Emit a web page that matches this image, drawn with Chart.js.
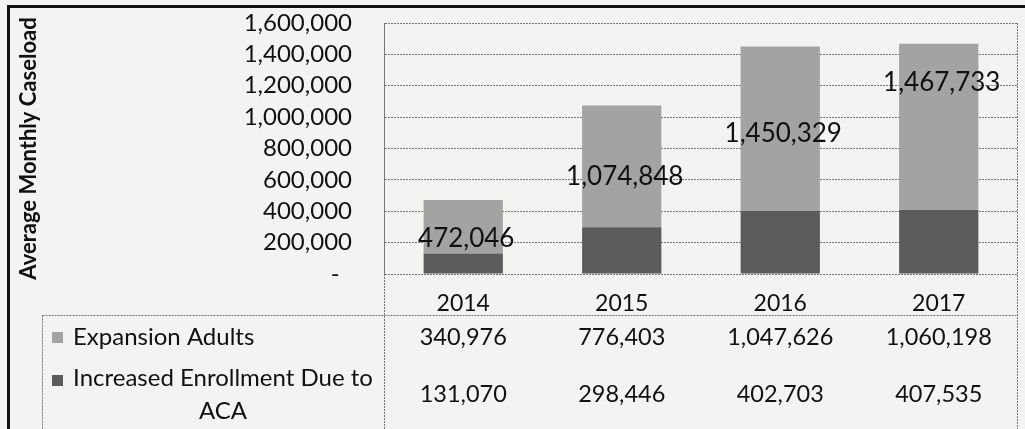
<!DOCTYPE html>
<html>
<head>
<meta charset="utf-8">
<script src="https://cdn.jsdelivr.net/npm/chart.js@4.4.1/dist/chart.umd.min.js"></script>
<style>
  html, body { margin: 0; padding: 0; background: #f3f3f1; }
  canvas { display: block; }
</style>
</head>
<body>
<canvas id="caseloadChart" width="1025" height="429"></canvas>
<script>
const years = ["2014", "2015", "2016", "2017"];
const expansionAdults = [340976, 776403, 1047626, 1060198];
const increasedEnrollment = [131070, 298446, 402703, 407535];
const totals = [472046, 1074848, 1450329, 1467733];
// where the total labels sit, in caseload units (they were placed by hand in the original)
const totalLabelAt = [223000, 624000, 892000, 1223000];
const yMax = 1600000;
const yStep = 200000;

const FONT = "Lato";
const LIGHT = "#a3a3a3";
const DARK = "#5b5b5b";
const LINE = "#767676";

const fmt = v => v.toLocaleString("en-US");

function line(ctx, x1, y1, x2, y2) {
    ctx.beginPath();
    ctx.moveTo(x1, y1);
    ctx.lineTo(x2, y2);
    ctx.stroke();
}

/* page frame, data table and total labels */
const tablePlugin = {
    id: "table",
    beforeDraw(chart) {
        const ctx = chart.ctx;
        ctx.save();
        ctx.fillStyle = "#f3f3f1";
        ctx.fillRect(0, 0, chart.width, chart.height);
        ctx.strokeStyle = "#111";
        ctx.lineWidth = 3;
        line(ctx, 8.5, 6.5, chart.width, 6.5);
        line(ctx, 8.5, 5, 8.5, chart.height);
        ctx.restore();
    },
    afterDatasetsDraw(chart) {
        const { ctx, scales: { x, y } } = chart;
        ctx.save();
        ctx.font = "26px " + FONT;
        ctx.fillStyle = "#111";
        ctx.textAlign = "center";
        ctx.textBaseline = "middle";
        totals.forEach((t, i) => {
            ctx.fillText(fmt(t), x.getPixelForValue(i) + 3, y.getPixelForValue(totalLabelAt[i]));
        });
        ctx.restore();
    },
    afterDraw(chart) {
        const { ctx, chartArea: a, scales: { x } } = chart;
        const bottom = chart.height;
        const rowTop = 315.5, row1 = 337, row2 = 394, labelLeft = 42.5;
        ctx.save();
        ctx.strokeStyle = LINE;
        ctx.lineWidth = 1;
        ctx.setLineDash([2, 1]);
        line(ctx, labelLeft, rowTop, a.right, rowTop);
        line(ctx, labelLeft, rowTop, labelLeft, bottom);
        line(ctx, a.left + 0.5, a.bottom, a.left + 0.5, bottom);
        line(ctx, a.right - 0.5, a.top, a.right - 0.5, bottom);
        ctx.setLineDash([]);

        // legend keys
        ctx.fillStyle = LIGHT;
        ctx.fillRect(52, 332, 11, 11);
        ctx.fillStyle = DARK;
        ctx.fillRect(52, 375, 11, 11);

        ctx.fillStyle = "#111";
        ctx.font = "24px " + FONT;
        ctx.textBaseline = "middle";
        ctx.textAlign = "left";
        ctx.fillText("Expansion Adults", 73, row1);
        ctx.textAlign = "center";
        ctx.fillText("Increased Enrollment Due to", 223, 378);
        ctx.fillText("ACA", 223, 411);

        ctx.font = "23.5px " + FONT;
        years.forEach((yr, i) => {
            const cx = x.getPixelForValue(i);
            ctx.fillText(fmt(expansionAdults[i]), cx, row1);
            ctx.fillText(fmt(increasedEnrollment[i]), cx, row2);
        });
        ctx.restore();
    }
};

const ctx = document.getElementById("caseloadChart").getContext("2d");

new Chart(ctx, {
    type: "bar",
    data: {
        labels: years,
        datasets: [{
            label: "Increased Enrollment Due to ACA",
            data: increasedEnrollment,
            backgroundColor: DARK
        }, {
            label: "Expansion Adults",
            data: expansionAdults,
            backgroundColor: LIGHT
        }]
    },
    options: {
        responsive: false,
        animation: false,
        barPercentage: 0.5,
        categoryPercentage: 1.0,
        layout: { padding: { left: 10, top: 23, right: 7, bottom: 0 } },
        plugins: {
            legend: { display: false },
            tooltip: { enabled: false }
        },
        scales: {
            x: {
                stacked: true,
                afterFit: s => { s.height = 155; s.paddingTop = 0; s.paddingBottom = 0; },
                grid: { display: false },
                border: { display: false },
                ticks: {
                    color: "#111",
                    padding: 8,
                    font: { family: FONT, size: 23 }
                }
            },
            y: {
                stacked: true,
                min: 0,
                max: yMax,
                afterFit: s => { s.width = 374; s.paddingTop = 0; s.paddingBottom = 0; },
                grid: { color: LINE, lineWidth: 1, drawTicks: false },
                border: { display: true, color: LINE, dash: [2, 1] },
                ticks: {
                    stepSize: yStep,
                    autoSkip: false,
                    padding: 32,
                    color: "#111",
                    font: { family: FONT, size: 24 },
                    callback: v => v === 0 ? "-  " : fmt(v)
                },
                title: {
                    display: true,
                    text: "Average Monthly Caseload",
                    color: "#111",
                    padding: { top: 6, bottom: 0 },
                    font: { family: FONT, size: 22, weight: "bold" }
                }
            }
        }
    },
    plugins: [tablePlugin]
});
</script>
</body>
</html>
